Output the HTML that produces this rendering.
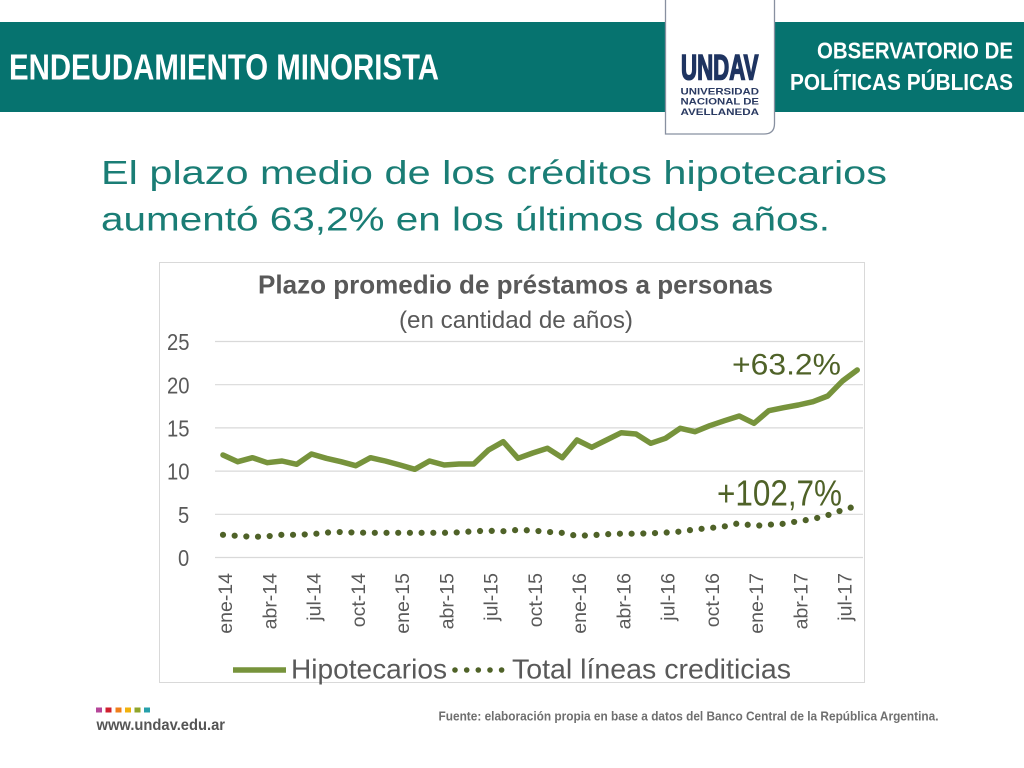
<!DOCTYPE html>
<html>
<head>
<meta charset="utf-8">
<style>
html,body{margin:0;padding:0;background:#fff;}
body{width:1024px;height:768px;overflow:hidden;}
svg{display:block;}
</style>
</head>
<body>
<svg width="1024" height="768" viewBox="0 0 1024 768" xmlns="http://www.w3.org/2000/svg">
  <!-- Header band -->
  <rect x="0" y="22" width="1024" height="90" fill="#06736f"/>
  <text x="9" y="79.5" font-family="'Liberation Sans Narrow','Liberation Sans',sans-serif" font-weight="bold" font-size="36" fill="#ffffff" textLength="430" lengthAdjust="spacingAndGlyphs">ENDEUDAMIENTO MINORISTA</text>
  <text x="817" y="58.5" font-family="'Liberation Sans Narrow','Liberation Sans',sans-serif" font-weight="bold" font-size="23.5" fill="#ffffff" textLength="196" lengthAdjust="spacingAndGlyphs">OBSERVATORIO DE</text>
  <text x="790" y="90" font-family="'Liberation Sans Narrow','Liberation Sans',sans-serif" font-weight="bold" font-size="23.5" fill="#ffffff" textLength="223" lengthAdjust="spacingAndGlyphs">POLÍTICAS PÚBLICAS</text>

  <!-- Logo panel -->
  <path d="M665.5 0 L665.5 134 L764 134 Q774.5 134 774.5 123.5 L774.5 0 Z" fill="#ffffff"/>
  <path d="M665.5 0 L665.5 134 L764 134 Q774.5 134 774.5 123.5 L774.5 0" fill="none" stroke="#8890a0" stroke-width="1.3"/>
  <text x="681" y="79.5" font-family="'Liberation Sans',sans-serif" font-weight="bold" font-size="35" fill="#1f3461" stroke="#1f3461" stroke-width="1.6" textLength="77.5" lengthAdjust="spacingAndGlyphs">UNDAV</text>
  <text x="680.5" y="94.3" font-family="'Liberation Sans',sans-serif" font-weight="bold" font-size="9.6" fill="#2a3a62" textLength="78.5" lengthAdjust="spacingAndGlyphs">UNIVERSIDAD</text>
  <text x="680.5" y="104.5" font-family="'Liberation Sans',sans-serif" font-weight="bold" font-size="9.6" fill="#2a3a62" textLength="78.5" lengthAdjust="spacingAndGlyphs">NACIONAL DE</text>
  <text x="680.5" y="115" font-family="'Liberation Sans',sans-serif" font-weight="bold" font-size="9.6" fill="#2a3a62" textLength="78.5" lengthAdjust="spacingAndGlyphs">AVELLANEDA</text>

  <!-- Subtitle -->
  <text x="101" y="184" font-family="'Liberation Sans',sans-serif" font-size="33" fill="#1a7d75" textLength="786" lengthAdjust="spacingAndGlyphs">El plazo medio de los créditos hipotecarios</text>
  <text x="101" y="230.5" font-family="'Liberation Sans',sans-serif" font-size="33" fill="#1a7d75" textLength="729" lengthAdjust="spacingAndGlyphs">aumentó 63,2% en los últimos dos años.</text>

  <!-- Chart box -->
  <rect x="159.5" y="262.5" width="705" height="420" fill="#ffffff" stroke="#d9d9d9" stroke-width="1"/>
  <text x="258" y="293.3" font-family="'Liberation Sans Narrow','Liberation Sans',sans-serif" font-weight="bold" font-size="26" fill="#595959" textLength="515" lengthAdjust="spacingAndGlyphs">Plazo promedio de préstamos a personas</text>
  <text x="399" y="328" font-family="'Liberation Sans Narrow','Liberation Sans',sans-serif" font-size="24" fill="#595959" textLength="234" lengthAdjust="spacingAndGlyphs">(en cantidad de años)</text>

  <!-- Gridlines -->
  <g stroke="#d9d9d9" stroke-width="1.2">
    <line x1="215" y1="341.5" x2="863" y2="341.5"/>
    <line x1="215" y1="384.7" x2="863" y2="384.7"/>
    <line x1="215" y1="427.9" x2="863" y2="427.9"/>
    <line x1="215" y1="471.1" x2="863" y2="471.1"/>
    <line x1="215" y1="514.3" x2="863" y2="514.3"/>
    <line x1="215" y1="557.5" x2="863" y2="557.5"/>
  </g>

  <!-- Y labels -->
  <g font-family="'Liberation Sans Narrow','Liberation Sans',sans-serif" font-size="23.5" fill="#595959">
    <text x="167" y="350" textLength="22.5" lengthAdjust="spacingAndGlyphs">25</text>
    <text x="167" y="393.5" textLength="22.5" lengthAdjust="spacingAndGlyphs">20</text>
    <text x="167" y="436.5" textLength="22.5" lengthAdjust="spacingAndGlyphs">15</text>
    <text x="167" y="479.7" textLength="22.5" lengthAdjust="spacingAndGlyphs">10</text>
    <text x="178" y="523" textLength="11.2" lengthAdjust="spacingAndGlyphs">5</text>
    <text x="178" y="566" textLength="11.2" lengthAdjust="spacingAndGlyphs">0</text>
  </g>

  <!-- X labels -->
  <g font-family="'Liberation Sans',sans-serif" font-size="19.5" fill="#595959" text-anchor="end">
    <text transform="translate(232,573) rotate(-90)">ene-14</text>
    <text transform="translate(276.25,573) rotate(-90)">abr-14</text>
    <text transform="translate(320.5,573) rotate(-90)">jul-14</text>
    <text transform="translate(364.75,573) rotate(-90)">oct-14</text>
    <text transform="translate(409,573) rotate(-90)">ene-15</text>
    <text transform="translate(453.25,573) rotate(-90)">abr-15</text>
    <text transform="translate(497.5,573) rotate(-90)">jul-15</text>
    <text transform="translate(541.75,573) rotate(-90)">oct-15</text>
    <text transform="translate(586,573) rotate(-90)">ene-16</text>
    <text transform="translate(630.25,573) rotate(-90)">abr-16</text>
    <text transform="translate(674.5,573) rotate(-90)">jul-16</text>
    <text transform="translate(718.75,573) rotate(-90)">oct-16</text>
    <text transform="translate(763,573) rotate(-90)">ene-17</text>
    <text transform="translate(807.25,573) rotate(-90)">abr-17</text>
    <text transform="translate(851.5,573) rotate(-90)">jul-17</text>
  </g>

  <!-- Hipotecarios series -->
  <polyline fill="none" stroke="#77933c" stroke-width="5.5" stroke-linejoin="round" stroke-linecap="round"
    points="223,455 237.75,461.7 252.5,457.7 267.25,462.7 282,461 296.75,464.3 311.5,454 326.25,458.3 341,461.7 355.75,465.7 370.5,457.7 385.25,461 400,465 414.75,469.3 429.5,461 444.25,465 459,464 473.75,464 488.5,450 503.25,441.7 518,458.3 532.75,453 547.5,448.3 562.25,457.7 577,440 591.75,447.3 606.5,440 621.25,432.7 636,434 650.75,443.3 665.5,438.3 680.25,428.3 695,431.7 709.75,425.7 724.5,420.7 739.25,416 754,423.3 768.75,410.7 783.5,407.7 798.25,405 813,401.7 827.75,396 842.5,381 857.25,370"/>

  <!-- Total líneas crediticias (dotted) -->
  <polyline fill="none" stroke="#4f6228" stroke-width="6.2" stroke-linecap="round" stroke-dasharray="0 11.7"
    points="223,534.8 237.75,535.9 252.5,536.9 267.25,536.3 282,534.8 296.75,534.8 311.5,534.2 326.25,532.6 341,532 355.75,532.6 370.5,532.8 385.25,532.8 400,532.8 414.75,532.8 429.5,532.8 444.25,532.8 459,532.4 473.75,531.2 488.5,530.8 503.25,531.2 518,529.9 532.75,530.5 547.5,531.9 562.25,532.9 577,535.9 591.75,535.2 606.5,534.2 621.25,533.7 636,533.7 650.75,533.3 665.5,532.6 680.25,531.6 695,529.4 709.75,528.1 724.5,526.4 739.25,523.1 754,526 768.75,524.7 783.5,523.8 798.25,521.2 813,519.1 827.75,515.2 842.5,510 857.25,505.8"/>

  <!-- Annotations -->
  <text x="732" y="374.3" font-family="'Liberation Sans Narrow','Liberation Sans',sans-serif" font-size="30" fill="#4f6228" textLength="109" lengthAdjust="spacingAndGlyphs">+63.2%</text>
  <text x="717" y="505.7" font-family="'Liberation Sans Narrow','Liberation Sans',sans-serif" font-size="36" fill="#4f6228" textLength="125" lengthAdjust="spacingAndGlyphs">+102,7%</text>

  <!-- Legend -->
  <line x1="233" y1="670" x2="286" y2="670" stroke="#77933c" stroke-width="5.5"/>
  <text x="291" y="678.3" font-family="'Liberation Sans Narrow','Liberation Sans',sans-serif" font-size="28" fill="#595959" textLength="156" lengthAdjust="spacingAndGlyphs">Hipotecarios</text>
  <g fill="#4f6228">
    <circle cx="455" cy="670" r="2.8"/>
    <circle cx="466.7" cy="670" r="2.8"/>
    <circle cx="478.3" cy="670" r="2.8"/>
    <circle cx="490" cy="670" r="2.8"/>
    <circle cx="501.6" cy="670" r="2.8"/>
  </g>
  <text x="512" y="678.3" font-family="'Liberation Sans Narrow','Liberation Sans',sans-serif" font-size="28" fill="#595959" textLength="279" lengthAdjust="spacingAndGlyphs">Total líneas crediticias</text>

  <!-- Footer -->
  <rect x="96" y="707.5" width="6" height="5" fill="#b5469a"/>
  <rect x="105.5" y="707.5" width="6" height="5" fill="#d0202f"/>
  <rect x="115.5" y="707.5" width="6" height="5" fill="#f07f1a"/>
  <rect x="125" y="707.5" width="6" height="5" fill="#f1b20d"/>
  <rect x="134.5" y="707.5" width="6" height="5" fill="#8fa52b"/>
  <rect x="144" y="707.5" width="6" height="5" fill="#26a0ab"/>
  <text x="96.5" y="730" font-family="'Liberation Sans',sans-serif" font-weight="bold" font-size="16" fill="#555555" textLength="128.5" lengthAdjust="spacingAndGlyphs">www.undav.edu.ar</text>
  <text x="438.5" y="720.7" font-family="'Liberation Sans Narrow','Liberation Sans',sans-serif" font-weight="bold" font-size="12.5" fill="#6f6f6f" textLength="500" lengthAdjust="spacingAndGlyphs">Fuente: elaboración propia en base a datos del Banco Central de la República Argentina.</text>
</svg>
</body>
</html>
